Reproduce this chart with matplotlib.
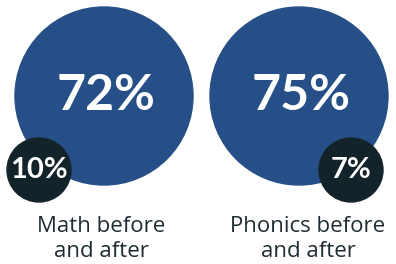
import matplotlib
matplotlib.use("Agg")
import matplotlib.pyplot as plt
from matplotlib.patches import Circle

categories = ["Math before\nand after", "Phonics before\nand after"]
after_pct = [72, 75]
before_pct = [10, 7]

BLUE = "#264f87"
DARK = "#13232a"
TEXT = "#1f2d33"

fig = plt.figure(figsize=(3.96, 2.64), dpi=100)
ax = fig.add_axes([0, 0, 1, 1])
ax.set_xlim(0, 396)
ax.set_ylim(264, 0)
ax.set_aspect("equal")
ax.axis("off")

big_centers = [(104, 96), (299, 96)]
small_centers = [(39, 170), (351, 170)]
label_x = [101, 308]
R_big, R_small = 89, 32

for i, cat in enumerate(categories):
    bx, by = big_centers[i]
    sx, sy = small_centers[i]
    ax.add_patch(Circle((bx, by), R_big, color=BLUE, zorder=1))
    ax.add_patch(Circle((sx, sy), R_small, color=DARK, zorder=2))
    ax.text(bx + 2, by, f"{after_pct[i]}%", color="white", fontsize=36,
            fontweight="bold", family="Lato", ha="center", va="center", zorder=3)
    ax.text(sx, sy, f"{before_pct[i]}%", color="white", fontsize=21,
            fontweight="bold", family="Lato", ha="center", va="center", zorder=3)
    ax.text(label_x[i], 239, cat, color=TEXT, fontsize=16, family="Open Sans",
            ha="center", va="center", linespacing=1.3, zorder=3)

fig.savefig("out.png", dpi=100)
